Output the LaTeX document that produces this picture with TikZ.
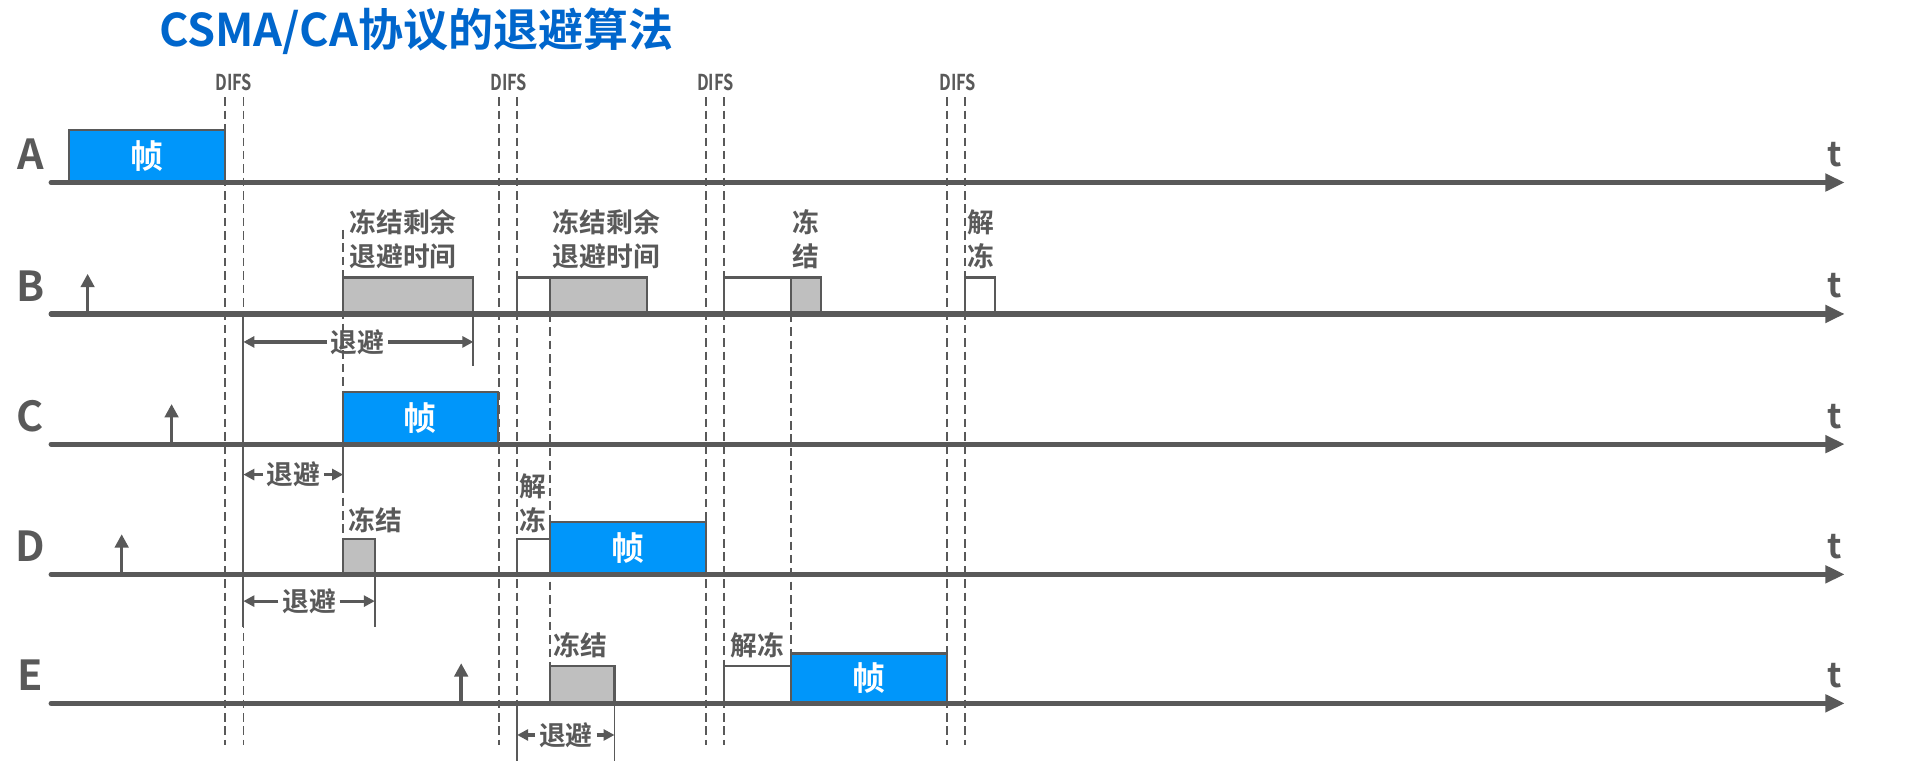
\documentclass[tikz,border=0pt]{standalone}
\usepackage{fontspec}
\usetikzlibrary{arrows.meta}
\setmainfont{Liberation Sans}
\newfontfamily\cjk{Noto Sans CJK SC}[BoldFont={* Bold}]
\definecolor{lg}{RGB}{89,89,89}
\definecolor{fb}{RGB}{0,150,250}
\definecolor{tb}{RGB}{0,102,204}
\definecolor{gf}{RGB}{191,191,191}
\begin{document}
\begin{tikzpicture}[x=1pt,y=-1pt,
  tl/.style={line width=4.2pt, draw=lg, line cap=round, -{Triangle[length=16pt,width=14pt]}},
  dl/.style={draw=lg, line width=1.3pt, dash pattern=on 7pt off 4pt},
  sl/.style={draw=lg, line width=1.5pt},
  fr/.style={draw=lg, line width=1.8pt, fill=fb, anchor=south west, inner sep=0pt, outer sep=0pt, font=\cjk\bfseries\fontsize{27}{27}\selectfont, text=white},
  gb/.style={draw=lg, line width=1.8pt, fill=gf, anchor=south west, inner sep=0pt, outer sep=0pt},
  wb/.style={draw=lg, line width=1.8pt, fill=white, anchor=south west, inner sep=0pt, outer sep=0pt},
  lab/.style={font=\cjk\bfseries\fontsize{22}{28}\selectfont, text=lg, inner sep=0pt},
  bkt/.style={font=\cjk\bfseries\fontsize{22}{28}\selectfont, text=lg, inner sep=3pt},
  rowl/.style={font=\cjk\bfseries\fontsize{34}{34}\selectfont, text=lg},
  tlab/.style={font=\cjk\bfseries\fontsize{28}{28}\selectfont, text=lg},
  difs/.style={font=\cjk\bfseries\fontsize{18}{18}\selectfont, text=lg},
  uparr/.style={line width=2.8pt, draw=lg, -{Triangle[length=11pt,width=11pt]}},
  bk/.style={line width=2.6pt, draw=lg, -{Triangle[length=9pt,width=9pt]}}]
\useasboundingbox (0,0) rectangle (1568,643);
\fill[white] (0,0) rectangle (1568,643);

% title
\node[font=\cjk\bfseries\fontsize{37}{37}\selectfont, text=tb] (title) at (342,26) {CSMA/CA协议的退避算法};

% DIFS labels
\node[difs] (d1) at (192,68) {\scalebox{0.75}[1]{DIFS}};
\node[difs] (d2) at (418,68) {\scalebox{0.75}[1]{DIFS}};
\node[difs] (d3) at (588,68) {\scalebox{0.75}[1]{DIFS}};
\node[difs] (d4) at (787,68) {\scalebox{0.75}[1]{DIFS}};

% dashed DIFS lines
\foreach \x in {185,200,410,425,580,595,778,793} {
  \draw[dl] (\x,80) -- (\x,612);
}
% extra dashed guide lines
\draw[dl] (282,189) -- (282,443);
\draw[dl] (452,258) -- (452,547);
\draw[dl] (650,258) -- (650,537);

% boxes
\node[fr, minimum width=128pt, minimum height=43pt] (fa) at (57,150) {帧};
\node[gb, minimum width=107pt, minimum height=30pt] (gb1) at (282,258) {};
\node[wb, minimum width=27pt, minimum height=30pt] (wb2) at (425,258) {};
\node[gb, minimum width=80pt, minimum height=30pt] (gb2) at (452,258) {};
\node[wb, minimum width=55pt, minimum height=30pt] (wb3) at (595,258) {};
\node[gb, minimum width=25pt, minimum height=30pt] (gb3) at (650,258) {};
\node[wb, minimum width=25pt, minimum height=30pt] (wb4) at (793,258) {};
\node[fr, minimum width=127pt, minimum height=43pt] (fc) at (282,365) {帧};
\node[gb, minimum width=26pt, minimum height=29pt] (gd) at (282,472) {};
\node[wb, minimum width=27pt, minimum height=29pt] (wd) at (425,472) {};
\node[fr, minimum width=128pt, minimum height=43pt] (fd) at (452,472) {帧};
\node[gb, minimum width=53pt, minimum height=31pt] (ge) at (452,578) {};
\node[wb, minimum width=55pt, minimum height=31pt] (we) at (595,578) {};
\node[fr, minimum width=128pt, minimum height=41pt] (fe) at (650,578) {帧};

% timelines
\foreach \n/\y in {A/150,B/258,C/365,D/472,E/578} {
  \coordinate (\n0) at (42,\y);
  \coordinate (\n1) at (1516,\y);
  \draw[tl] (\n0) -- (\n1);
  \node[rowl] (\n lab) at (25,\y-23) {\n};
  \node[tlab] (\n t) at (1508,\y-23) {t};
}

% solid ticks
\draw[sl] (200,258) -- (200,515);
\draw[sl] (389,258) -- (389,301);
\draw[sl] (282,365) -- (282,400);
\draw[sl] (308,472) -- (308,515);
\draw[sl] (425,578) -- (425,625);
\draw[sl] (505,578) -- (505,625);

% arrival arrows
\coordinate (ub0) at (72,258);  \coordinate (ub1) at (72,225);
\coordinate (uc0) at (141,365); \coordinate (uc1) at (141,332);
\coordinate (ud0) at (100,472); \coordinate (ud1) at (100,439);
\coordinate (ue0) at (379,578); \coordinate (ue1) at (379,545);
\draw[uparr] (ub0) -- (ub1);
\draw[uparr] (uc0) -- (uc1);
\draw[uparr] (ud0) -- (ud1);
\draw[uparr] (ue0) -- (ue1);

% backoff brackets
\node[bkt] (bb) at (294,281) {退避};
\coordinate (bbL) at (200,281); \coordinate (bbR) at (389,281);
\draw[bk] (bb.west) -- (bbL);
\draw[bk] (bb.east) -- (bbR);

\node[bkt] (bc) at (241,390) {退避};
\coordinate (bcL) at (200,390); \coordinate (bcR) at (282,390);
\draw[bk] (bc.west) -- (bcL);
\draw[bk] (bc.east) -- (bcR);

\node[bkt] (bd) at (254,494) {退避};
\coordinate (bdL) at (200,494); \coordinate (bdR) at (308,494);
\draw[bk] (bd.west) -- (bdL);
\draw[bk] (bd.east) -- (bdR);

\node[bkt] (be) at (465,604) {退避};
\coordinate (beL) at (425,604); \coordinate (beR) at (505,604);
\draw[bk] (be.west) -- (beL);
\draw[bk] (be.east) -- (beR);

% text labels
\node[lab, align=left, anchor=north west] (lb1) at (287,172) {冻结剩余\\退避时间};
\node[lab, align=left, anchor=north west] (lb2) at (454,172) {冻结剩余\\退避时间};
\node[lab, align=center, anchor=north] (lb3) at (662,172) {冻\\结};
\node[lab, align=center, anchor=north] (lb4) at (806,172) {解\\冻};
\node[lab, anchor=north west] (ld1) at (286,417) {冻结};
\node[lab, align=center, anchor=north] (ld2) at (438,389) {解\\冻};
\node[lab, anchor=north west] (le1) at (455,520) {冻结};
\node[lab, anchor=north west] (le2) at (600,520) {解冻};
\end{tikzpicture}
\end{document}
